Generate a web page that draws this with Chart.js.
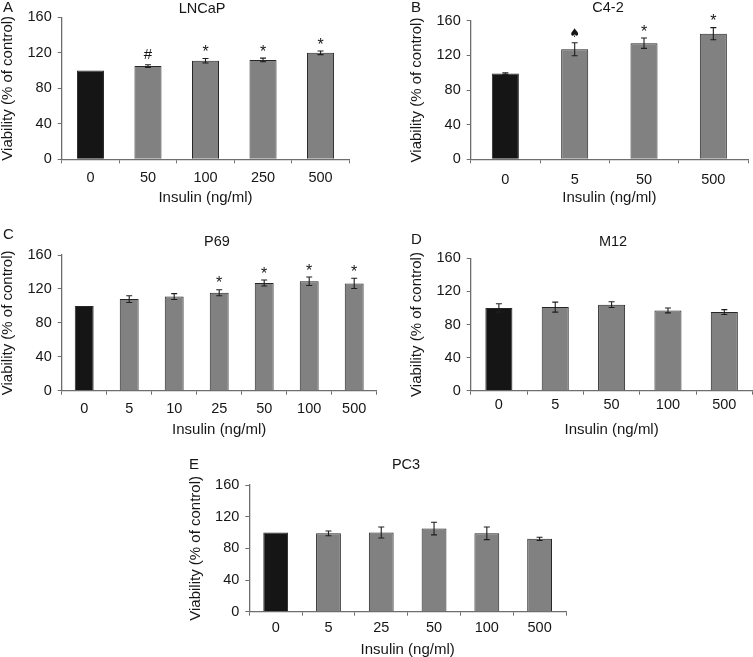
<!DOCTYPE html>
<html><head><meta charset="utf-8">
<script src="https://cdn.jsdelivr.net/npm/chart.js@4.4.1/dist/chart.umd.min.js"></script>
<style>
html,body{margin:0;padding:0;background:#fff;}
#wrap{position:relative;width:753px;height:657px;overflow:hidden;}
canvas{position:absolute;left:0;top:0;}
</style></head>
<body><div id="wrap">
<canvas id="cA" width="753" height="657"></canvas>
<canvas id="cB" width="753" height="657"></canvas>
<canvas id="cC" width="753" height="657"></canvas>
<canvas id="cD" width="753" height="657"></canvas>
<canvas id="cE" width="753" height="657"></canvas>
</div>
<script>
// ---- data ----
const yTicks = [0, 40, 80, 120, 160];
const xTitle = 'Insulin (ng/ml)';
const yTitle = 'Viability (% of control)';

const catsA = ['0', '50', '100', '250', '500'];
const valsA = [100, 105, 111, 112, 120];
const errsA = [0, 1.5, 2.5, 2, 2];
const marksA = ['', '#', '*', '*', '*'];

const catsB = ['0', '5', '50', '500'];
const valsB = [99, 127, 134, 145];
const errsB = [1, 7.5, 6, 7];
const marksB = ['', '\u2660', '*', '*'];

const catsC = ['0', '5', '10', '25', '50', '100', '500'];
const valsC = [100, 108, 111, 115.5, 127, 129, 126.5];
const errsC = [0, 4, 3.5, 3.5, 3.5, 5, 6];
const marksC = ['', '', '', '*', '*', '*', '*'];

const catsD = ['0', '5', '50', '100', '500'];
const valsD = [100, 101, 104, 97, 95];
const errsD = [5, 6, 3.5, 3, 3];
const marksD = ['', '', '', '', ''];

const catsE = ['0', '5', '25', '50', '100', '500'];
const valsE = [100, 99, 100, 105, 99, 92];
const errsE = [0, 3, 7, 8, 8, 2];
const marksE = ['', '', '', '', '', ''];

// ---- layout ----
const W = 753, H = 657, YW = 40, XH = 30;
const FONT = "'Liberation Sans', Arial, Helvetica, sans-serif";
const TXT = '#161616', AX = '#6e6e6e';

const panels = [
  {id:'cA', letter:'A', name:'LNCaP', cats:catsA, vals:valsA, errs:errsA, marks:marksA,
   L:61.7, T:17.3, R:349.3, B:159.3, tpad:6, bp:0.47, titleX:202, titleY:9, letX:3, letY:8, xtY:198},
  {id:'cB', letter:'B', name:'C4-2', cats:catsB, vals:valsB, errs:errsB, marks:marksB,
   L:470.7, T:20.7, R:748, B:159.3, tpad:7.5, bp:0.39, titleX:608, titleY:8, letX:411, letY:8, xtY:198},
  {id:'cC', letter:'C', name:'P69', cats:catsC, vals:valsC, errs:errsC, marks:marksC,
   L:61.7, T:255, R:376.7, B:390.7, tpad:5.5, bp:0.42, titleX:217, titleY:242, letX:3, letY:235, xtY:430},
  {id:'cD', letter:'D', name:'M12', cats:catsD, vals:valsD, errs:errsD, marks:marksD,
   L:470.7, T:258.3, R:752.5, B:390.7, tpad:1.5, bp:0.48, titleX:613, titleY:242, letX:411, letY:240, xtY:429.5},
  {id:'cE', letter:'E', name:'PC3', cats:catsE, vals:valsE, errs:errsE, marks:marksE,
   L:249.3, T:485, R:566, B:611.7, tpad:3.5, bp:0.47, titleX:406, titleY:465, letX:189, letY:465, xtY:649.5}
];

const annot = {
  id: 'annot',
  afterDraw(chart) {
    const p = chart.options.plugins.annot.panel;
    const ctx = chart.ctx;
    const ys = chart.scales.y;
    const meta = chart.getDatasetMeta(0);
    ctx.save();
    // error bars
    ctx.strokeStyle = '#1e1e1e';
    ctx.lineWidth = 1.1;
    meta.data.forEach((bar, i) => {
      const e = p.errs[i];
      if (!e) return;
      const v = p.vals[i];
      const yt = ys.getPixelForValue(v + e), yb = ys.getPixelForValue(v - e);
      ctx.beginPath();
      ctx.moveTo(bar.x, yt); ctx.lineTo(bar.x, yb);
      ctx.moveTo(bar.x - 3, yt); ctx.lineTo(bar.x + 3, yt);
      ctx.moveTo(bar.x - 3, yb); ctx.lineTo(bar.x + 3, yb);
      ctx.stroke();
    });
    // significance marks
    ctx.fillStyle = TXT;
    ctx.textAlign = 'center';
    meta.data.forEach((bar, i) => {
      const m = p.marks[i];
      if (!m) return;
      const yt = ys.getPixelForValue(p.vals[i] + p.errs[i]);
      if (m === '*') {
        ctx.font = '16px ' + FONT; ctx.textBaseline = 'alphabetic';
        ctx.fillText(m, bar.x, yt - 1.5);
      } else if (m === '#') {
        ctx.font = '15px ' + FONT; ctx.textBaseline = 'alphabetic';
        ctx.fillText(m, bar.x, yt - 5.5);
      } else {
        ctx.font = "12px 'DejaVu Sans', sans-serif"; ctx.textBaseline = 'middle';
        ctx.fillText(m, bar.x, yt - 9);
      }
    });
    // titles
    ctx.textBaseline = 'middle';
    ctx.font = '14.5px ' + FONT;
    ctx.textAlign = 'center';
    ctx.fillText(p.name, p.titleX, p.titleY);
    ctx.textAlign = 'left';
    ctx.font = '15px ' + FONT;
    ctx.fillText(p.letter, p.letX, p.letY);
    ctx.textAlign = 'center';
    ctx.font = '15px ' + FONT;
    ctx.fillText(xTitle, (p.L + p.R) / 2, p.xtY);
    ctx.save();
    ctx.translate(p.L - 53.5, (p.T + p.B) / 2);
    ctx.rotate(-Math.PI / 2);
    ctx.fillText(yTitle, 0, 0);
    ctx.restore();
    ctx.restore();
  }
};

panels.forEach(p => {
  new Chart(document.getElementById(p.id), {
    type: 'bar',
    data: {
      labels: p.cats,
      datasets: [{
        data: p.vals,
        backgroundColor: p.vals.map((v, i) => i === 0 ? '#151515' : '#818181'),
        borderColor: '#262626',
        borderWidth: 1,
        barPercentage: p.bp,
        categoryPercentage: 1
      }]
    },
    options: {
      responsive: false,
      animation: false,
      devicePixelRatio: 1,
      layout: {padding: {left: p.L - YW, top: p.T, right: W - p.R, bottom: H - p.B - XH}},
      plugins: {legend: {display: false}, title: {display: false}, tooltip: {enabled: false}, annot: {panel: p}},
      scales: {
        x: {
          grid: {display: true, drawOnChartArea: false, drawTicks: true, tickLength: 4, color: AX, offset: true},
          border: {display: true, color: AX, width: 1.3},
          ticks: {color: TXT, font: {family: FONT, size: 14.5}, padding: p.tpad, maxRotation: 0, autoSkip: false},
          afterFit(s) { s.height = XH; }
        },
        y: {
          min: 0, max: 160,
          afterBuildTicks(s) { s.ticks = yTicks.map(v => ({value: v})); },
          grid: {display: true, drawOnChartArea: false, drawTicks: true, tickLength: 4, color: AX},
          border: {display: true, color: AX, width: 1.3},
          ticks: {color: TXT, font: {family: FONT, size: 14.5}, padding: 6},
          afterFit(s) { s.width = YW; }
        }
      }
    },
    plugins: [annot]
  });
});
</script>
</body></html>
